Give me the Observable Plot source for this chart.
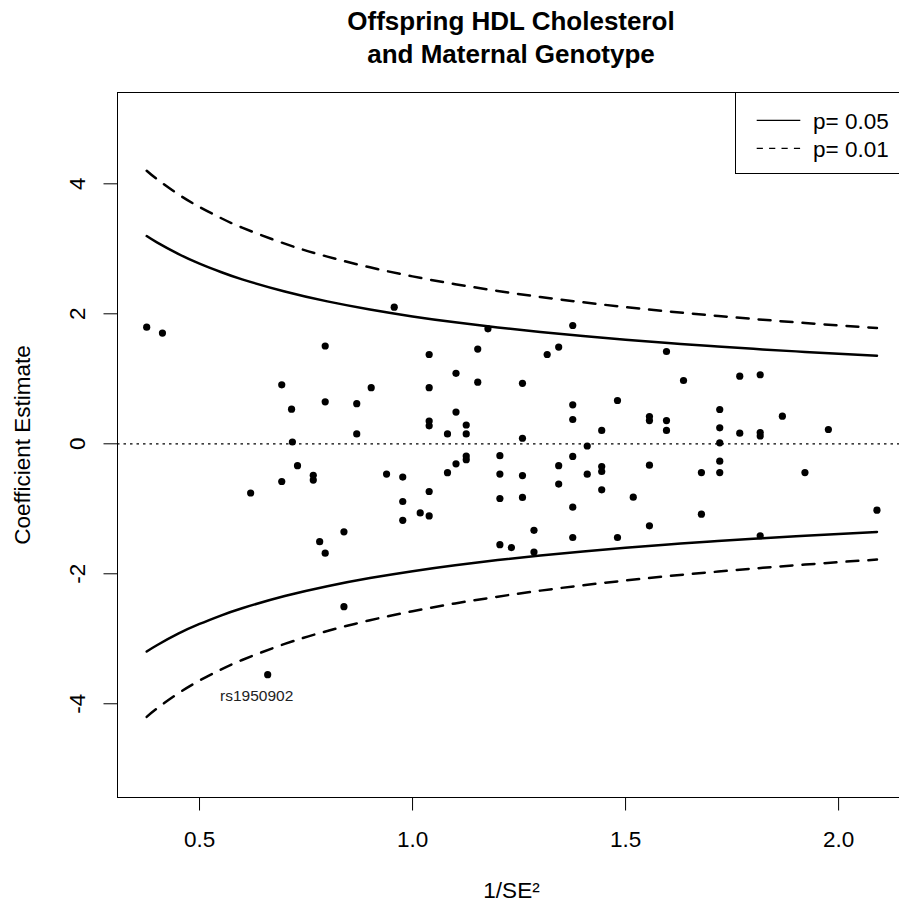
<!DOCTYPE html>
<html>
<head>
<meta charset="utf-8">
<script src="https://cdn.jsdelivr.net/npm/d3@7"></script>
<script src="https://cdn.jsdelivr.net/npm/@observablehq/plot@0.6"></script>
<style>
  html, body { margin: 0; padding: 0; background: #fff; overflow: hidden; }
  #wrap { position: relative; width: 920px; font-family: "Liberation Sans", Arial, sans-serif; color: #000; }
  #title { width: 1022px; height: 84px; box-sizing: border-box; padding-top: 4.5px; text-align: center;
           font-weight: bold; font-size: 26px; line-height: 33px; }
  #legend { position: absolute; left: 735px; top: 92px; width: 300px; height: 82px; box-sizing: border-box;
            border: 1px solid #000; background: #fff; }
</style>
</head>
<body>
<div id="wrap">
  <div id="title">Offspring HDL Cholesterol<br>and Maternal Genotype</div>
  <div id="chart"></div>
  <div id="legend"></div>
</div>
<script>
// Per-SNP precision (1/SE^2) and coefficient estimate
const precision = [
  0.376, 0.413, 0.795, 0.693, 0.903, 1.039, 1.039, 1.102, 1.153, 1.153,
  1.258, 1.316, 1.343, 0.716, 0.795, 0.869, 1.102, 1.039, 1.039, 1.126,
  0.869, 1.082, 1.126, 1.258, 0.718, 0.730, 0.693, 0.620, 0.767, 0.767,
  0.939, 0.977, 0.977, 0.977, 1.018, 1.039, 1.039, 1.082, 1.102, 1.126,
  1.126, 1.205, 1.205, 1.205, 1.258, 1.258, 1.343, 1.343, 1.285, 1.285,
  1.205, 1.232, 0.839, 0.782, 0.795, 0.839, 0.660, 0.957, 1.177, 1.376,
  1.596, 1.636, 1.376, 1.481, 1.376, 1.556, 1.556, 1.596, 1.444, 1.596,
  1.768, 1.816, 1.721, 1.868, 1.721, 1.768, 1.816, 1.816, 1.976, 1.721,
  1.721, 1.721, 1.921, 2.090, 1.816, 1.410, 1.376, 1.556, 1.410, 1.444,
  1.444, 1.678, 1.444, 1.518, 1.376, 1.678, 1.556, 1.376, 1.481
];
const estimate = [
  1.794, 1.703, 1.505, 0.908, 0.863, 0.863, 1.374, 1.085, 1.458, 0.948,
  0.931, 1.374, 1.488, 0.532, 0.646, 0.618, 0.488, 0.351, 0.277, 0.289,
  0.152, 0.152, 0.152, 0.085, 0.028, -0.337, -0.580, -0.757, -0.485, -0.558,
  -0.466, -0.512, -0.888, -1.177, -1.063, -1.109, -0.734, -0.445, -0.308, -0.189,
  -0.245, -0.183, -0.466, -0.842, -0.489, -0.825, -0.337, -0.620, -1.331, -1.666,
  -1.552, -1.597, -1.354, -1.506, -1.683, -2.506, -3.552, 2.102, 1.769, 1.820,
  1.420, 0.974, 0.600, 0.666, 0.374, 0.420, 0.358, 0.358, 0.205, 0.205,
  1.040, 1.062, 0.528, 0.425, 0.246, 0.163, 0.174, 0.120, 0.220, 0.015,
  -0.268, -0.442, -0.442, -1.022, -1.415, -0.034, -0.195, -0.329, -0.468, -0.349,
  -0.426, -0.442, -0.708, -0.822, -0.975, -1.083, -1.262, -1.442, -1.442
];

// Significance funnel: sampled precision values and the boundary estimates
const funnelX = [0.376, 0.40, 0.45, 0.50, 0.55, 0.60, 0.70, 0.80, 0.90, 1.00, 1.10,
                 1.20, 1.30, 1.40, 1.50, 1.60, 1.70, 1.80, 1.90, 2.00, 2.09];
const upper05 = [3.196, 3.099, 2.922, 2.772, 2.643, 2.530, 2.343, 2.191, 2.066, 1.960, 1.869,
                 1.789, 1.719, 1.657, 1.600, 1.550, 1.503, 1.461, 1.422, 1.386, 1.356];
const lower05 = [-3.196, -3.099, -2.922, -2.772, -2.643, -2.530, -2.343, -2.191, -2.066, -1.960, -1.869,
                 -1.789, -1.719, -1.657, -1.600, -1.550, -1.503, -1.461, -1.422, -1.386, -1.356];
const upper01 = [4.201, 4.073, 3.840, 3.643, 3.474, 3.326, 3.079, 2.880, 2.715, 2.576, 2.456,
                 2.352, 2.259, 2.177, 2.103, 2.036, 1.976, 1.920, 1.869, 1.821, 1.782];
const lower01 = [-4.201, -4.073, -3.840, -3.643, -3.474, -3.326, -3.079, -2.880, -2.715, -2.576, -2.456,
                 -2.352, -2.259, -2.177, -2.103, -2.036, -1.976, -1.920, -1.869, -1.821, -1.782];

// Annotated SNP
const snpNames = ["rs1950902"];
const snpX = [0.660];
const snpY = [-3.552];

// Axes
const xTicks = [0.5, 1.0, 1.5, 2.0];
const xTickLabels = ["0.5", "1.0", "1.5", "2.0"];
const yTicks = [-4, -2, 0, 2, 4];
const yTickLabels = ["-4", "-2", "0", "2", "4"];

// Legend entries
const legendLabels = ["p= 0.05", "p= 0.01"];

const points = precision.map((x, i) => ({x, y: estimate[i]}));
const funnel = funnelX.map((x, i) => ({x, u05: upper05[i], l05: lower05[i], u01: upper01[i], l01: lower01[i]}));
const snps = snpNames.map((name, i) => ({name, x: snpX[i], y: snpY[i]}));

const font = '"Liberation Sans", Arial, sans-serif';
const dash = "12,10";

const chart = Plot.plot({
  width: 920,
  height: 825,
  marginLeft: 117,
  marginRight: 15,
  marginTop: 8,
  marginBottom: 112,
  style: {fontFamily: font, fontSize: "22.5px", color: "#000", background: "#fff", overflow: "visible"},
  x: {domain: [0.3075, 2.157]},
  y: {domain: [-5.442, 5.405]},
  marks: [
    Plot.ruleY([0], {stroke: "#000", strokeWidth: 1.2, strokeDasharray: "2.5,4"}),
    Plot.line(funnel, {x: "x", y: "u05", curve: "natural", stroke: "#000", strokeWidth: 2.5}),
    Plot.line(funnel, {x: "x", y: "l05", curve: "natural", stroke: "#000", strokeWidth: 2.5}),
    Plot.line(funnel, {x: "x", y: "u01", curve: "natural", stroke: "#000", strokeWidth: 2.5, strokeDasharray: dash}),
    Plot.line(funnel, {x: "x", y: "l01", curve: "natural", stroke: "#000", strokeWidth: 2.5, strokeDasharray: dash}),
    Plot.dot(points, {x: "x", y: "y", r: 3.6, fill: "#000"}),
    Plot.text(snps, {x: "x", y: "y", text: "name", dx: -11, dy: 21.4, fontSize: 15.5, fill: "#222"}),
    Plot.frame({stroke: "#000", strokeWidth: 1}),
    Plot.axisX(xTicks, {tickSize: 13.5, tickPadding: 20.5, fontSize: 22.5, label: null,
      tickFormat: d => xTickLabels[xTicks.indexOf(d)]}),
    Plot.axisY(yTicks, {tickSize: 13.5, label: null, tickFormat: () => ""}),
    Plot.text(yTicks, {y: d => d, text: (d, i) => yTickLabels[i], frameAnchor: "left", dx: -40,
      rotate: -90, textAnchor: "middle", lineAnchor: "middle", fontSize: 22.5}),
    Plot.text(["Coefficient Estimate"], {text: d => d, frameAnchor: "left", dx: -94.5, rotate: -90,
      textAnchor: "middle", lineAnchor: "middle", fontSize: 22.5}),
    Plot.text(["1/SE\u00B2"], {text: d => d, frameAnchor: "bottom", dy: 93,
      textAnchor: "middle", lineAnchor: "middle", fontSize: 22.5})
  ]
});
document.getElementById("chart").appendChild(chart);

// Legend: line styles of the two funnel boundaries
const leg = d3.select("#legend").append("svg")
  .attr("width", 298).attr("height", 80)
  .style("display", "block")
  .style("font-family", font);
legendLabels.forEach((label, i) => {
  const cy = 27.3 + i * 28;
  leg.append("line")
    .attr("x1", 20.7).attr("x2", 64.3).attr("y1", cy).attr("y2", cy)
    .attr("stroke", "#000").attr("stroke-width", 1.3)
    .attr("stroke-dasharray", i === 0 ? null : "6.2,6.2");
  leg.append("text")
    .attr("x", 77).attr("y", cy + 8.4)
    .attr("font-size", 22.5).attr("fill", "#000")
    .text(label);
});
</script>
</body>
</html>
